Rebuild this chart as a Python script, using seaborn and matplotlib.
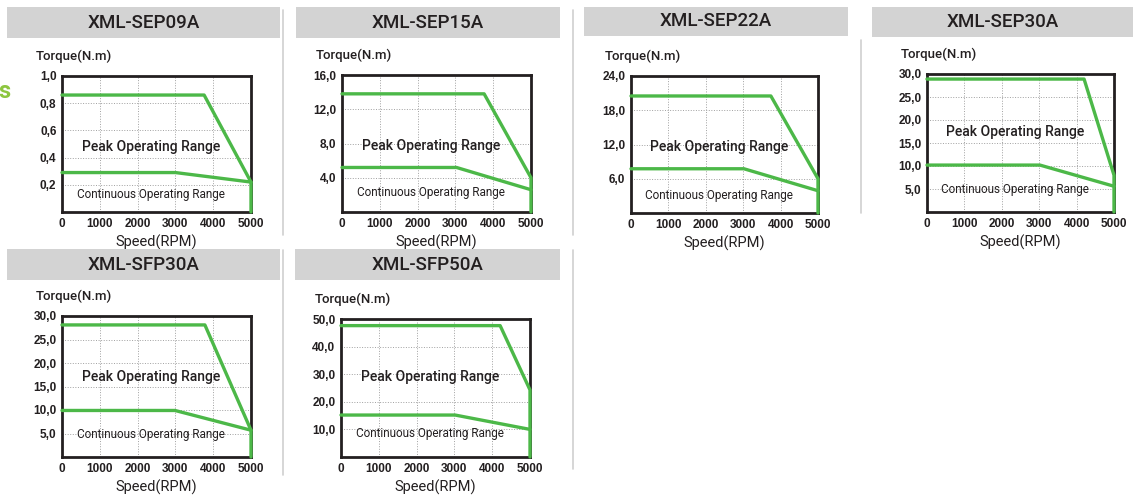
import matplotlib.pyplot as plt
import seaborn as sns
from matplotlib.patches import Rectangle
from matplotlib.lines import Line2D

# motor models and torque/speed curves
models = ['XML-SEP09A', 'XML-SEP15A', 'XML-SEP22A', 'XML-SEP30A', 'XML-SFP30A', 'XML-SFP50A']
torque_max = [1.0, 16.0, 24.0, 30.0, 30.0, 50.0]
torque_ticks = [
    [0.2, 0.4, 0.6, 0.8, 1.0],
    [4.0, 8.0, 12.0, 16.0],
    [6.0, 12.0, 18.0, 24.0],
    [5.0, 10.0, 15.0, 20.0, 25.0, 30.0],
    [5.0, 10.0, 15.0, 20.0, 25.0, 30.0],
    [10.0, 20.0, 30.0, 40.0, 50.0],
]
speed_ticks = [0, 1000, 2000, 3000, 4000, 5000]

peak_speed = [
    [0, 3760, 5000, 5000],
    [0, 3760, 5000, 5000],
    [0, 3740, 5000, 5000],
    [0, 4200, 5000, 5000],
    [0, 3780, 5000, 5000],
    [0, 4210, 5000, 5000],
]
peak_torque = [
    [0.86, 0.86, 0.22, 0.0],
    [13.8, 13.8, 4.0, 0.0],
    [20.5, 20.5, 6.0, 0.0],
    [28.9, 28.9, 8.0, 0.0],
    [28.1, 28.1, 5.7, 0.0],
    [47.6, 47.6, 24.3, 0.0],
]
cont_speed = [
    [0, 3000, 5000],
    [0, 3030, 5000],
    [0, 3020, 5000],
    [0, 3020, 5000],
    [0, 2990, 5000],
    [0, 3020, 5000],
]
cont_torque = [
    [0.29, 0.29, 0.22],
    [5.2, 5.2, 2.6],
    [7.75, 7.75, 3.9],
    [10.2, 10.2, 5.6],
    [9.9, 9.9, 5.7],
    [15.2, 15.2, 10.0],
]

W, H = 1133, 495
# pixel boxes: axes (left, top, right, bottom), header (left, top, right, bottom)
axes_px = [(62, 76, 251, 212), (342, 75, 531, 212), (631, 76, 818, 213),
           (927, 74, 1114, 212), (62, 316, 251, 457), (341, 319, 530, 457)]
header_px = [(7, 7, 280, 38), (296, 7, 560, 38), (584, 7, 848, 36),
             (872, 7, 1133, 37), (7, 249, 280, 280), (295, 249, 560, 280)]
label_y = [(0.48, 0.13), (0.48, 0.14), (0.48, 0.13), (0.58, 0.16), (0.57, 0.16), (0.58, 0.17)]

green = '#4cb848'
ink = '#231f20'
sns.set_style('white')
plt.rcParams['font.family'] = ['Roboto', 'DejaVu Sans']

fig = plt.figure(figsize=(W / 100, H / 100), dpi=100)

def px_rect(l, t, r, b):
    return [l / W, 1 - b / H, (r - l) / W, (b - t) / H]

# separators between panels
for x, y0, y1 in [(283, 10, 235), (573, 10, 235), (861, 40, 213), (283, 250, 475), (573, 250, 469)]:
    fig.add_artist(Line2D([x / W, x / W], [1 - y0 / H, 1 - y1 / H], color='#d0d0d0', lw=1.2))

fig.text(-0.001, 1 - 91 / H, 's', color='#8dc63f', fontsize=17, fontweight='bold', va='center')

for i, name in enumerate(models):
    hl, ht, hr, hb = header_px[i]
    fig.add_artist(Rectangle((hl / W, 1 - hb / H), (hr - hl) / W, (hb - ht) / H,
                             transform=fig.transFigure, color='#d3d3d3', lw=0))
    fig.text((hl + hr) / 2 / W, 1 - (ht + hb) / 2 / H, name, ha='center', va='center',
             fontsize=13.5, fontweight='medium', color=ink)

    ax = fig.add_axes(px_rect(*axes_px[i]))
    sns.lineplot(x=peak_speed[i], y=peak_torque[i], sort=False, estimator=None,
                 color=green, lw=2.4, ax=ax, clip_on=False, zorder=3)
    sns.lineplot(x=cont_speed[i], y=cont_torque[i], sort=False, estimator=None,
                 color=green, lw=2.4, ax=ax, clip_on=False, zorder=3)
    ax.set_xlim(0, 5000)
    ax.set_ylim(0, torque_max[i])
    ax.set_xticks(speed_ticks)
    ax.set_xticklabels([str(s) for s in speed_ticks], fontsize=8.5, fontweight='bold',
                       family='Liberation Sans', color=ink)
    ax.set_yticks(torque_ticks[i])
    ax.set_yticklabels([f'{v:.1f}'.replace('.', ',') for v in torque_ticks[i]], fontsize=8.5,
                       fontweight='bold', family='Liberation Sans', color=ink)
    ax.tick_params(length=0, pad=4)
    ax.grid(True, linestyle=':', color='#a0a0a0', lw=0.7)
    for sp in ax.spines.values():
        sp.set_color(ink)
        sp.set_linewidth(2)
    ax.set_xlabel('Speed(RPM)', fontsize=10.5, color=ink, labelpad=4)
    ax.set_ylabel('')
    ax.annotate('Torque(N.m)', xy=(0, 1), xycoords='axes fraction', xytext=(-26, 13),
                textcoords='offset pixels', ha='left', va='bottom', fontsize=9.5,
                fontweight='medium', color=ink)
    py, cy = label_y[i]
    ax.text(0.47, py, 'Peak Operating Range', transform=ax.transAxes, ha='center',
            va='center', fontsize=10, fontweight='medium', color=ink)
    ax.text(0.47, cy, 'Continuous Operating Range', transform=ax.transAxes, ha='center',
            va='center', fontsize=8.5, fontstretch='condensed', color=ink)

plt.savefig('out.png', dpi=100)
